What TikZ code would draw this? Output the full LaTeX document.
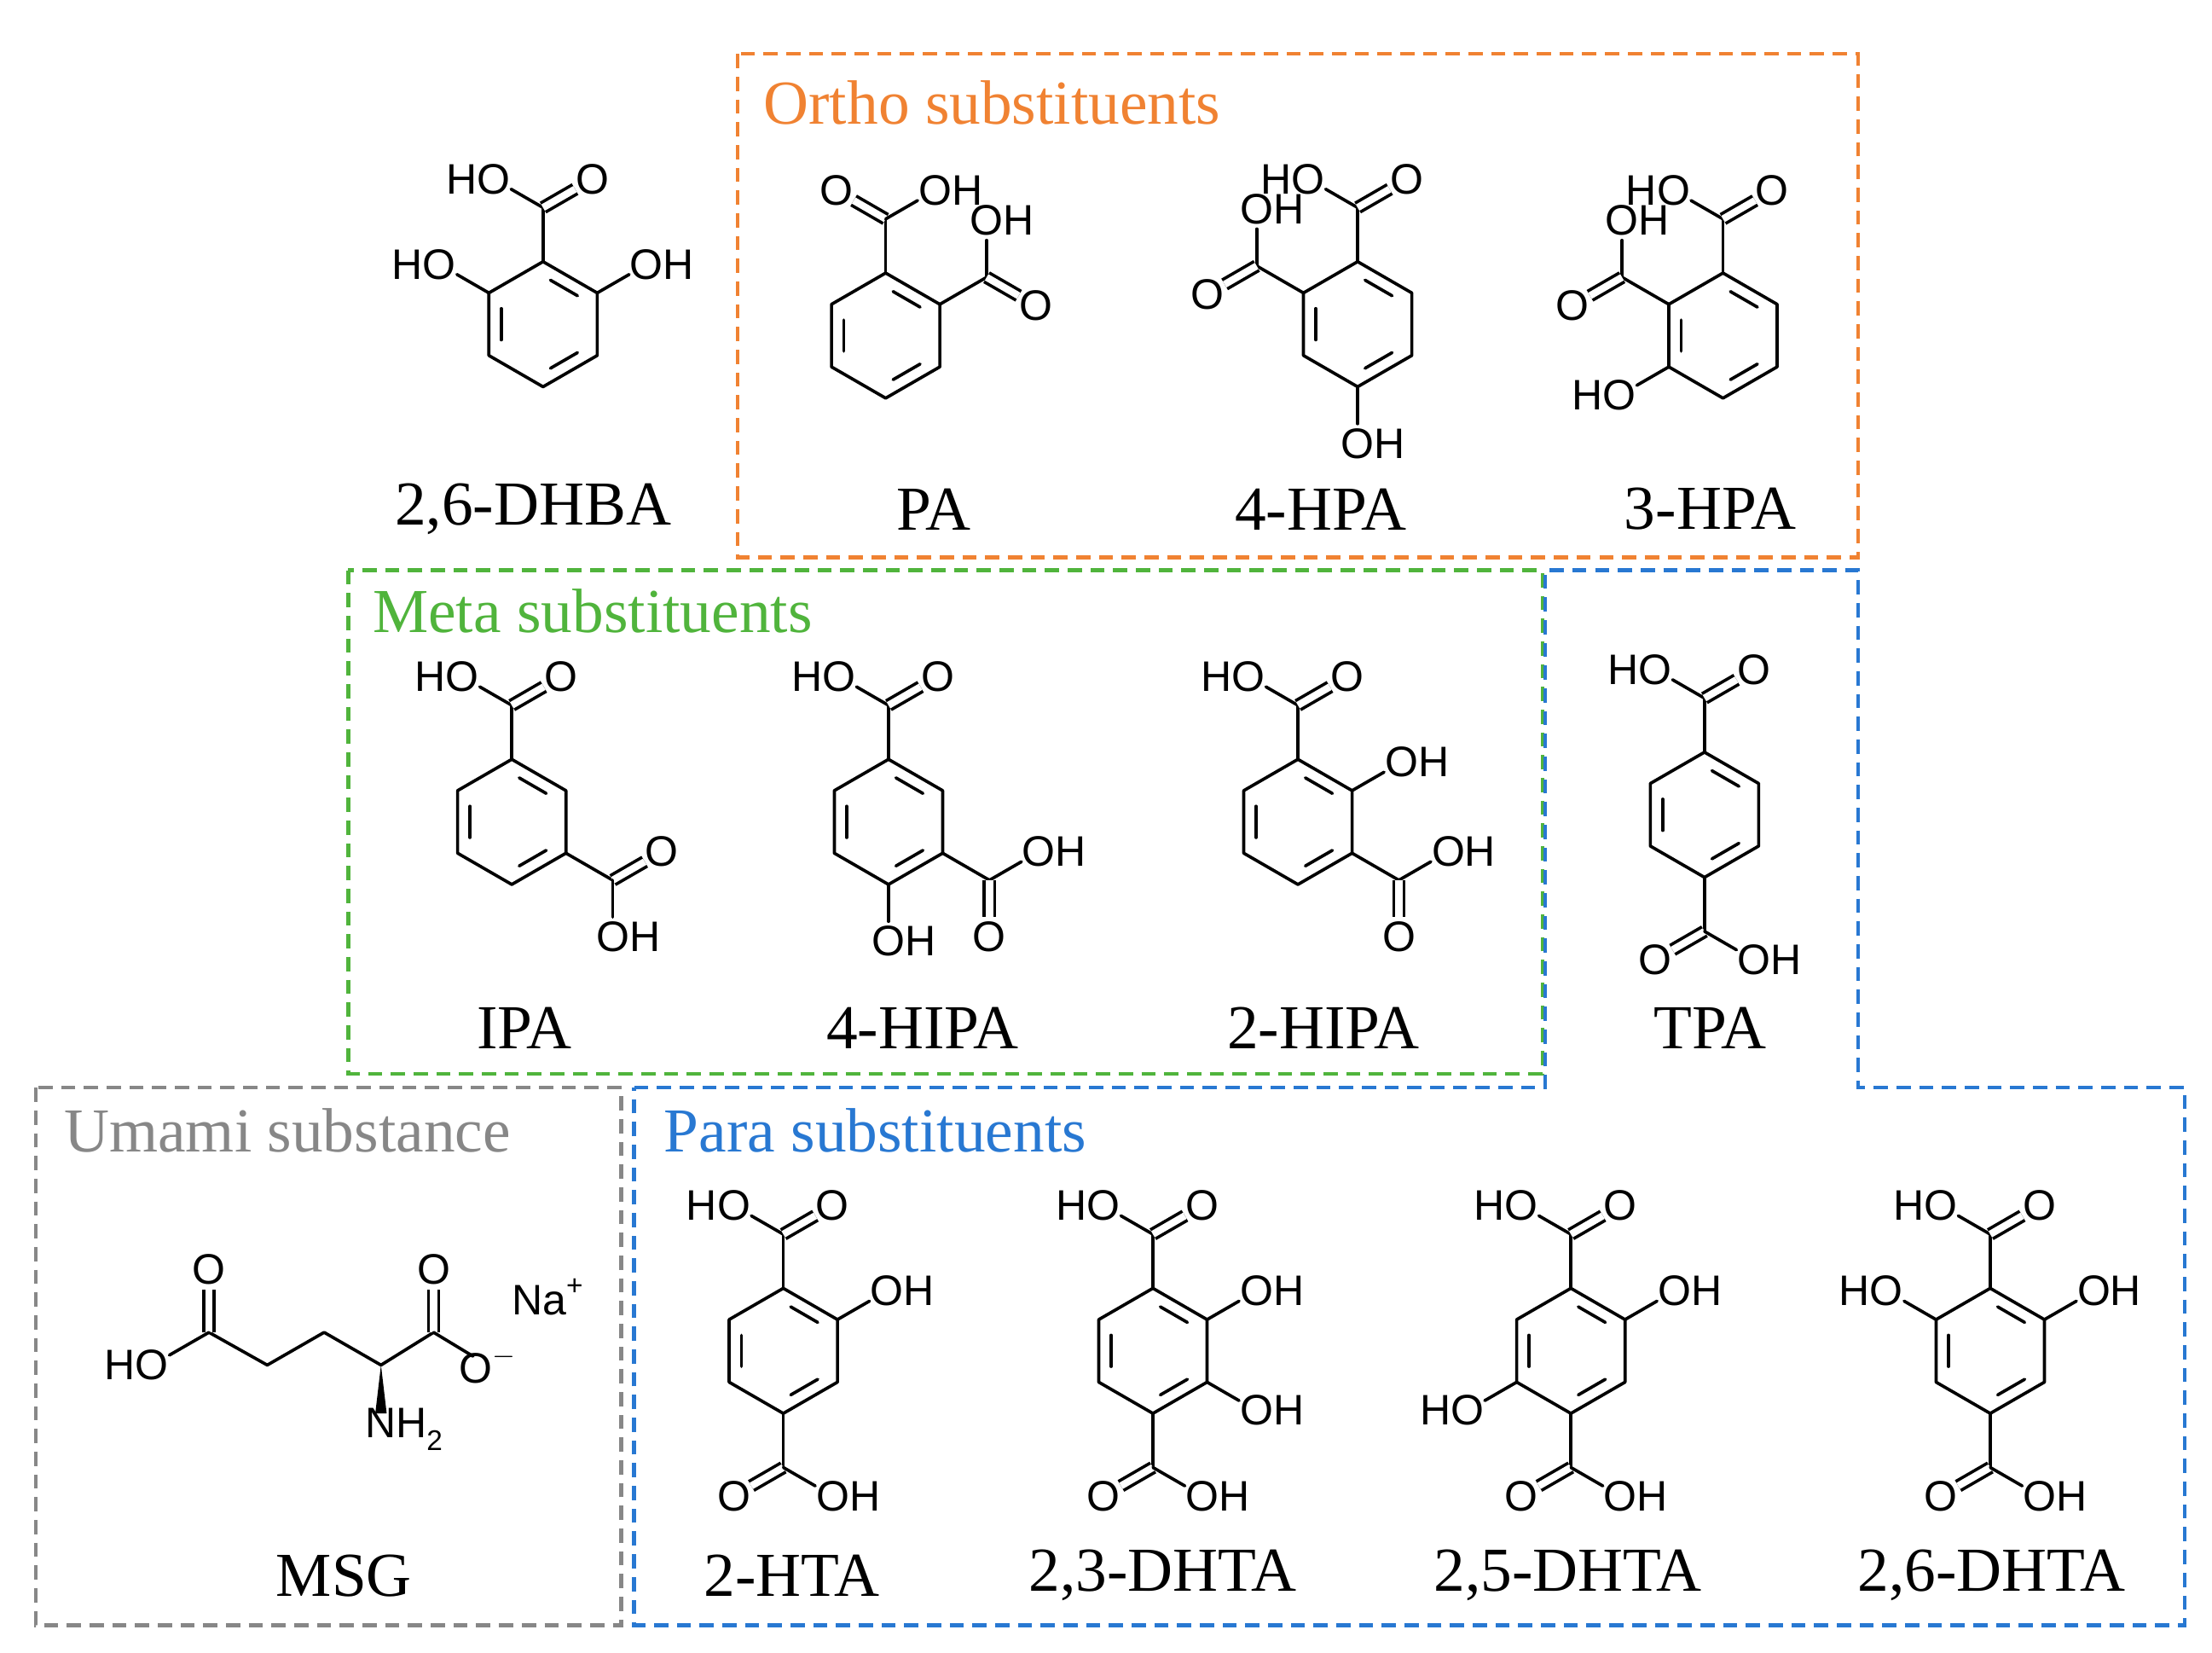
\documentclass[tikz,border=0pt]{standalone}
\usepackage{fontspec}
\setmainfont{Liberation Serif}
\newfontfamily\atomf{Liberation Sans}
\usetikzlibrary{calc}
\definecolor{cor}{RGB}{240,130,50}
\definecolor{cgr}{RGB}{80,180,60}
\definecolor{cbl}{RGB}{40,120,210}
\definecolor{cgy}{RGB}{135,135,135}
\tikzset{bond/.style={line width=2.2pt,line cap=round},
 dbl/.style={line width=2.2pt,double,double distance=5pt},
 atom/.style={font=\atomf\fontsize{30}{30}\selectfont,inner sep=0pt},
 lab/.style={font=\fontsize{44}{44}\selectfont,inner sep=0pt},
 ttl/.style={font=\fontsize{44}{44}\selectfont,inner sep=0pt,anchor=west},
 box/.style={dash pattern=on 10pt off 6pt,line width=2.5pt}}
\newcommand\benz[3]{%
 \coordinate (#1) at (#2,#3);
 \foreach \a/\n in {-90/t,-30/ur,30/lr,90/b,150/ll,210/ul}{\coordinate (#1-\n) at ($(#2,#3)+(\a:44)$);}
 \draw[bond,line join=round] (#1-t)--(#1-ur)--(#1-lr)--(#1-b)--(#1-ll)--(#1-ul)--cycle;
 \foreach \a/\b in {-90/-30,30/90,150/210}{\draw[bond,shorten <=6pt,shorten >=6pt] ($(#2,#3)+(\a:34)$) -- ($(#2,#3)+(\b:34)$);}
}
\newcommand\sub[4]{\draw[bond,shorten >=14pt] (#1) -- ++(#2:40) node[atom,xshift=#4]{#3};}
\newcommand\dsub[4]{\draw[dbl,shorten >=14pt] (#1) -- ++(#2:40) node[atom,xshift=#4]{#3};}
\newcommand\cb[3]{\draw[bond] (#1) -- ++(#2:38) coordinate (#3);}
\newcommand\topacid[1]{\cb{#1-t}{-90}{#1c}\sub{#1c}{-150}{HO}{-11pt}\dsub{#1c}{-30}{O}{0pt}}
\newcommand\botacid[1]{\cb{#1-b}{90}{#1e}\dsub{#1e}{150}{O}{0pt}\sub{#1e}{30}{OH}{11pt}}
\begin{document}
\begin{tikzpicture}[x=1pt,y=-1pt]
\useasboundingbox (0,0) rectangle (1556,1162.5);
% boxes
\draw[box,cor] (519,38) rectangle (1307,392);
\draw[box,cgr] (245,401) rectangle (1085,755);
\draw[box,cbl] (446,765) -- (1087,765) -- (1087,401) -- (1307,401) -- (1307,765) -- (1537,765) -- (1537,1143) -- (446,1143) -- cycle;
\draw[box,cgy] (25,765) rectangle (437,1143);
\node[ttl,text=cor] (t1) at (537,72) {Ortho substituents};
\node[ttl,text=cgr] (t2) at (262,430) {Meta substituents};
\node[ttl,text=cgy] (t3) at (45,795) {Umami substance};
\node[ttl,text=cbl] (t4) at (467,795) {Para substituents};
% 2,6-DHBA
\benz{m1}{382}{228}\topacid{m1}
\sub{m1-ul}{210}{HO}{-11pt}\sub{m1-ur}{-30}{OH}{11pt}
% PA
\benz{m2}{623}{236}
\cb{m2-t}{-90}{m2c}\dsub{m2c}{-150}{O}{0pt}\sub{m2c}{-30}{OH}{11pt}
\cb{m2-ur}{-30}{m2d}\sub{m2d}{-90}{OH}{11pt}\dsub{m2d}{30}{O}{0pt}
% 4-HPA
\benz{m3}{955}{228}\topacid{m3}
\cb{m3-ul}{210}{m3d}\sub{m3d}{-90}{OH}{11pt}\dsub{m3d}{150}{O}{0pt}
\sub{m3-b}{90}{OH}{11pt}
% 3-HPA
\benz{m4}{1212}{236}\topacid{m4}
\cb{m4-ul}{210}{m4d}\sub{m4d}{-90}{OH}{11pt}\dsub{m4d}{150}{O}{0pt}
\sub{m4-ll}{150}{HO}{-11pt}
% IPA
\benz{m5}{360}{578}\topacid{m5}
\cb{m5-lr}{30}{m5d}\dsub{m5d}{-30}{O}{0pt}\sub{m5d}{90}{OH}{11pt}
% 4-HIPA
\benz{m6}{625}{578}\topacid{m6}
\cb{m6-lr}{30}{m6d}\sub{m6d}{-30}{OH}{11pt}\dsub{m6d}{90}{O}{0pt}
\sub{m6-b}{90}{OH}{11pt}
% 2-HIPA
\benz{m7}{913}{578}\topacid{m7}
\sub{m7-ur}{-30}{OH}{11pt}
\cb{m7-lr}{30}{m7d}\sub{m7d}{-30}{OH}{11pt}\dsub{m7d}{90}{O}{0pt}
% TPA
\benz{m8}{1199}{573}\topacid{m8}\botacid{m8}
% para
\benz{m9}{551}{950}\topacid{m9}\botacid{m9}
\sub{m9-ur}{-30}{OH}{11pt}
\benz{m10}{811}{950}\topacid{m10}\botacid{m10}
\sub{m10-ur}{-30}{OH}{11pt}\sub{m10-lr}{30}{OH}{11pt}
\benz{m11}{1105}{950}\topacid{m11}\botacid{m11}
\sub{m11-ur}{-30}{OH}{11pt}\sub{m11-ll}{150}{HO}{-11pt}
\benz{m12}{1400}{950}\topacid{m12}\botacid{m12}
\sub{m12-ur}{-30}{OH}{11pt}\sub{m12-ul}{210}{HO}{-11pt}
% MSG
\coordinate (g1) at (147,937);
\coordinate (g2) at (188,960);
\coordinate (g3) at (228,937);
\coordinate (g4) at (268,960);
\coordinate (g5) at (305,937);
\draw[bond,line join=round] (g1) -- (g2) -- (g3) -- (g4) -- (g5);
\draw[dbl,shorten >=14pt] (g1) -- ++(0,-44) node[atom]{O};
\draw[bond,shorten >=14pt] (g1) -- ++(-40,23) node[atom,xshift=-11pt]{HO};
\draw[dbl,shorten >=14pt] (g5) -- ++(0,-44) node[atom]{O};
\draw[bond,shorten >=12pt] (g5) -- ++(38,23) coordinate (gm);
\node[atom] (om) at (gm) {O\raisebox{0.45em}{\fontsize{20}{20}\selectfont $-$}};
\fill (g4) -- ($(g4)+(-4,34)$) -- ($(g4)+(4,34)$) -- cycle;
\node[atom,anchor=north] (nh) at (284,990) {NH\raisebox{-0.3em}{\fontsize{20}{20}\selectfont 2}};
\node[atom] (na) at (385,912) {Na\raisebox{0.45em}{\fontsize{20}{20}\selectfont +}};
% labels
\node[lab] (l1) at (375,358) {2,6-DHBA};
\node[lab] (l2) at (657,358) {PA};
\node[lab] (l3) at (929,358) {4-HPA};
\node[lab] (l4) at (1203,358) {3-HPA};
\node[lab] (l5) at (369,723) {IPA};
\node[lab] (l6) at (649,723) {4-HIPA};
\node[lab] (l7) at (931,723) {2-HIPA};
\node[lab] (l8) at (1203,723) {TPA};
\node[lab] (l9) at (242,1108) {MSG};
\node[lab] (l10) at (557,1108) {2-HTA};
\node[lab] (l11) at (818,1108) {2,3-DHTA};
\node[lab] (l12) at (1103,1108) {2,5-DHTA};
\node[lab] (l13) at (1401,1108) {2,6-DHTA};
\end{tikzpicture}
\end{document}
